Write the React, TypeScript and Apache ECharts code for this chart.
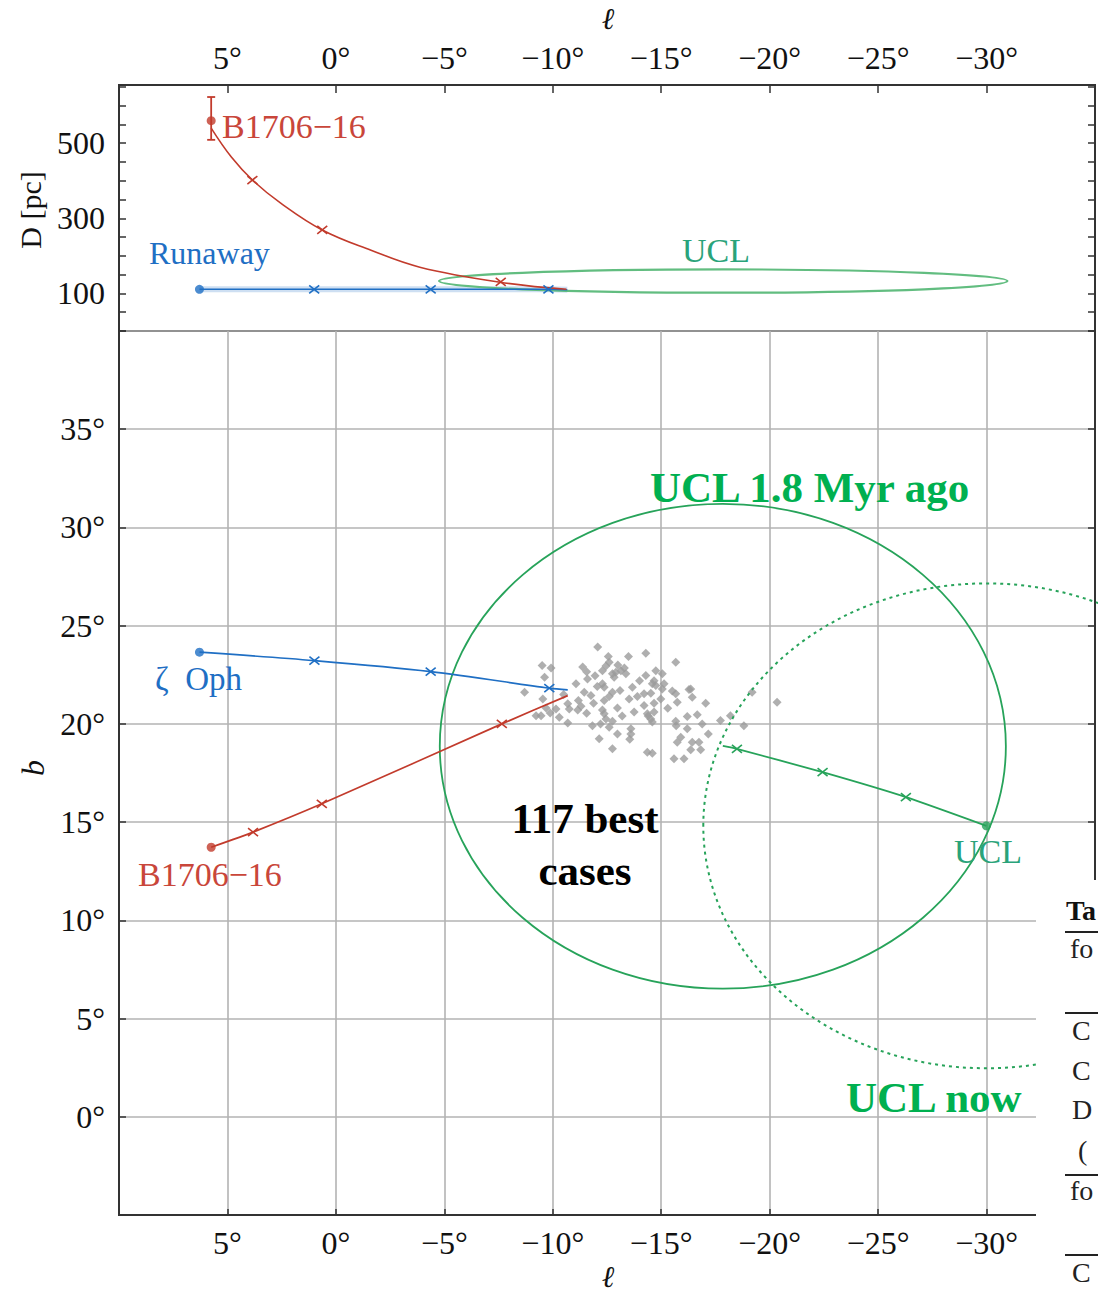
import React, { useEffect, useRef } from 'react';
import * as echarts from 'echarts';

// ---- tick labels ----
const lTickLabels = [5, 0, -5, -10, -15, -20, -25, -30];
const bTickLabels = [0, 5, 10, 15, 20, 25, 30, 35];
const dTickLabels = [100, 300, 500];

// ---- top panel (l, D) ----
const pulsarCurveL = [5.75, 4.82, 3.85, 2.56, 0.63, -1.62, -3.87, -7.55, -10.63];
const pulsarCurveD = [540, 463, 402, 341, 269, 215, 170, 130, 111];
const pulsarCrossL_D = [3.85, 0.63, -7.6];
const pulsarCrossD = [402, 269, 131];
const pulsarNowL_D = 5.75;
const pulsarNowD = 560;
const pulsarDErrLow = 509;
const pulsarDErrHigh = 623;

const runawayL_D = [6.29, 1.0, -4.37, -9.8, -10.67];
const runawayD = [111, 111, 111, 111, 110];
const runawayCrossL_D = [1.0, -4.37, -9.8];
const runawayCrossD = [111, 111, 111];

const uclTopCenter = [-17.86, 133];
const uclTopSemi = [13.1, 31];

// ---- main panel (l, b) ----
const zetaL = [6.29, 0.99, -4.37, -9.84, -10.69];
const zetaB = [23.65, 23.22, 22.66, 21.82, 21.73];
const zetaCrossL = [0.99, -4.37, -9.84];
const zetaCrossB = [23.22, 22.66, 21.82];

const psrL = [5.75, 3.82, 0.65, -7.65, -10.69];
const psrB = [13.72, 14.49, 15.93, 20.0, 21.44];
const psrCrossL = [3.82, 0.65, -7.65];
const psrCrossB = [14.49, 15.93, 20.0];

const uclL = [-29.99, -26.28, -22.44, -18.49, -17.84];
const uclB = [14.81, 16.27, 17.54, 18.73, 18.88];
const uclCrossL = [-26.28, -22.44, -18.49];
const uclCrossB = [16.27, 17.54, 18.73];

const uclPastCenter = [-17.84, 18.86];
const uclNowCenter = [-29.99, 14.81];
const uclSemi = [13.05, 12.34];

const caseL = [
  -12.07, -12.56, -13.49, -14.29, -9.51, -9.92, -11.38, -11.56, -12.29, -12.6,
  -12.75, -12.91, -13.14, -13.37, -12.83, -14.29, -9.62, -11.6, -11.07, -12.29,
  -12.37, -13.67, -8.7, -11.45, -11.76, -12.75, -14.21, -9.54, -11.18, -11.88,
  -12.37, -13.52, -13.9, -10.69, -10.76, -11.15, -12.98, -12.29, -14.21, -9.69,
  -10.15, -9.23, -9.46, -9.88, -10.3, -11.56, -12.37, -12.45, -12.75, -13.75,
  -14.36, -10.69, -11.83, -12.6, -13.6, -12.98, -12.14, -13.6, -13.55, -12.75,
  -14.36, -15.67, -14.75, -15.05, -14.67, -14.59, -14.75, -15.13, -14.52, -15.05,
  -15.51, -15.67, -16.36, -16.43, -14.67, -14.98, -15.74, -17.05, -14.67, -14.4,
  -14.52, -16.2, -16.66, -14.59, -15.67, -15.69, -16.89, -17.73, -18.19, -18.81,
  -16.2, -17.17, -15.9, -15.74, -16.43, -16.74, -16.36, -16.82, -14.59, -15.59,
  -16.05, -19.19, -20.34, -13.0, -12.45, -13.3, -11.95, -12.05, -13.1, -11.3,
  -12.6, -13.2, -14.0, -15.3, -10.5, -16.28, -12.2,
];
const caseB = [
  23.91, 23.43, 23.43, 23.6, 22.97, 22.84, 22.89, 22.66, 22.71, 23.14,
  22.55, 22.63, 22.71, 22.55, 22.38, 22.46, 22.38, 22.29, 22.04, 22.04,
  21.87, 21.87, 21.61, 21.61, 21.44, 21.61, 21.53, 21.27, 21.19, 21.05,
  21.19, 21.27, 21.39, 21.02, 20.76, 20.71, 20.81, 20.71, 20.93, 20.81,
  20.76, 20.42, 20.42, 20.56, 20.34, 20.54, 20.51, 20.25, 20.14, 20.6,
  20.51, 20.04, 19.91, 19.83, 19.75, 19.49, 19.24, 19.49, 19.22, 18.73,
  18.56, 23.14, 22.71, 22.55, 22.2, 22.04, 21.95, 22.04, 21.56, 21.78,
  21.67, 21.53, 21.78, 21.36, 21.05, 21.27, 21.1, 21.05, 20.6, 20.4,
  20.25, 20.37, 20.47, 20.09, 20.14, 19.91, 20.0, 20.17, 20.42, 19.91,
  19.75, 19.49, 19.32, 19.07, 19.07, 19.07, 18.68, 18.68, 18.51, 18.22,
  18.22, 21.61, 21.1, 23.0, 22.95, 22.85, 22.45, 21.9, 21.7, 20.9,
  21.4, 20.4, 22.2, 20.8, 21.5, 21.75, 20.0,
];

const RED = '#c23b2c';
const BLUE = '#1f6fc4';
const GREEN = '#27a35a';
const SERIF = '"Liberation Serif", "DejaVu Serif", serif';

const zip = (a: number[], b: number[]) => a.map((v, i) => [v, b[i]]);

function crossSeries(xi: number, yi: number, data: number[][], color: string) {
  return {
    type: 'custom',
    xAxisIndex: xi,
    yAxisIndex: yi,
    z: 6,
    data,
    renderItem: (_p: any, api: any) => {
      const p = api.coord([api.value(0), api.value(1)]);
      const sx = 5, sy = 4;
      return {
        type: 'group',
        children: [
          { type: 'line', shape: { x1: p[0] - sx, y1: p[1] - sy, x2: p[0] + sx, y2: p[1] + sy }, style: { stroke: color, lineWidth: 1.6 } },
          { type: 'line', shape: { x1: p[0] - sx, y1: p[1] + sy, x2: p[0] + sx, y2: p[1] - sy }, style: { stroke: color, lineWidth: 1.6 } },
        ],
      };
    },
  };
}

function ellipseSeries(xi: number, yi: number, center: number[], semi: number[], color: string, width: number, dash?: number[]) {
  return {
    type: 'custom',
    xAxisIndex: xi,
    yAxisIndex: yi,
    z: 4,
    clip: false,
    data: [[center[0], center[1], semi[0], semi[1]]],
    renderItem: (_p: any, api: any) => {
      const c = api.coord([api.value(0), api.value(1)]);
      const s = api.size([api.value(2), api.value(3)]);
      return {
        type: 'ellipse',
        shape: { cx: c[0], cy: c[1], rx: s[0], ry: s[1] },
        style: { fill: 'none', stroke: color, lineWidth: width, lineDash: dash || null },
      };
    },
  };
}

function lineSeries(xi: number, yi: number, data: number[][], color: string, width: number, smooth: number | boolean) {
  return {
    type: 'line',
    xAxisIndex: xi,
    yAxisIndex: yi,
    data,
    smooth,
    showSymbol: false,
    z: 5,
    lineStyle: { color, width },
  };
}

function dotSeries(xi: number, yi: number, data: number[][], color: string) {
  return {
    type: 'scatter',
    xAxisIndex: xi,
    yAxisIndex: yi,
    data,
    symbol: 'circle',
    symbolSize: 9,
    z: 7,
    itemStyle: { color },
  };
}

const lFmt = (v: number) => {
  if (!lTickLabels.includes(v)) return '';
  return (v < 0 ? '\u2212' + -v : String(v)) + '°';
};

const axisText = { fontFamily: SERIF, fontSize: 32, color: '#111' };
const frameLine = { show: true, onZero: false, lineStyle: { color: '#333', width: 2 } };

function txt(x: number, y: number, text: string, color: string, font: string, align = 'left', rotation = 0, z = 50) {
  return {
    type: 'text',
    x,
    y,
    rotation,
    z,
    style: { text, fill: color, font, textAlign: align, textVerticalAlign: 'middle' },
  };
}

const option: any = {
  animation: false,
  backgroundColor: '#ffffff',
  grid: [
    { left: 119, top: 85, width: 978, height: 246, show: true, borderColor: '#333', borderWidth: 2 },
    { left: 119, top: 331, width: 978, height: 884, show: true, borderColor: '#333', borderWidth: 2 },
  ],
  xAxis: [
    {
      type: 'value', gridIndex: 0, position: 'top', min: -35, max: 10, interval: 5, inverse: true,
      axisLine: frameLine,
      axisTick: { show: true, inside: true, length: 8, lineStyle: { color: '#333', width: 1.5 } },
      axisLabel: { ...axisText, margin: 11, formatter: lFmt, showMinLabel: true, showMaxLabel: true },
      splitLine: { show: false },
    },
    {
      type: 'value', gridIndex: 1, position: 'bottom', min: -35, max: 10, interval: 5, inverse: true,
      axisLine: frameLine,
      axisTick: { show: true, inside: true, length: 6, lineStyle: { color: '#333', width: 1.5 } },
      axisLabel: { ...axisText, margin: 12, formatter: lFmt, showMinLabel: true, showMaxLabel: true },
      splitLine: { show: true, lineStyle: { color: '#b3b3b3', width: 1.6 } },
    },
  ],
  yAxis: [
    {
      type: 'value', gridIndex: 0, position: 'left', min: 0, max: 655, interval: 50,
      axisLine: frameLine,
      axisTick: { show: true, inside: true, length: 7, lineStyle: { color: '#333', width: 1.5 } },
      axisLabel: { ...axisText, margin: 14, formatter: (v: number) => (dTickLabels.includes(v) ? String(v) : '') },
      splitLine: { show: false },
    },
    {
      type: 'value', gridIndex: 1, position: 'left', min: -5, max: 40, interval: 5,
      axisLine: frameLine,
      axisTick: { show: true, inside: true, length: 7, lineStyle: { color: '#333', width: 1.5 } },
      axisLabel: { ...axisText, margin: 14, formatter: (v: number) => (bTickLabels.includes(v) ? v + '°' : '') },
      splitLine: { show: true, lineStyle: { color: '#b3b3b3', width: 1.6 } },
    },
    {
      type: 'value', gridIndex: 0, position: 'right', min: 0, max: 655, interval: 50,
      axisLine: frameLine,
      axisTick: { show: true, inside: true, length: 7, lineStyle: { color: '#333', width: 1.5 } },
      axisLabel: { show: false },
      splitLine: { show: false },
    },
    {
      type: 'value', gridIndex: 1, position: 'right', min: -5, max: 40, interval: 5,
      axisLine: frameLine,
      axisTick: { show: true, inside: true, length: 7, lineStyle: { color: '#333', width: 1.5 } },
      axisLabel: { show: false },
      splitLine: { show: false },
    },
  ],
  series: [
    // ---- top panel ----
    ellipseSeries(0, 0, uclTopCenter, uclTopSemi, '#62bd80', 2.2),
    {
      type: 'line', xAxisIndex: 0, yAxisIndex: 0, data: zip(runawayL_D, runawayD), showSymbol: false, z: 3,
      lineStyle: { color: 'rgba(31,111,196,0.22)', width: 6 },
    },
    lineSeries(0, 0, zip(runawayL_D, runawayD), BLUE, 1.6, false),
    crossSeries(0, 0, zip(runawayCrossL_D, runawayCrossD), BLUE),
    dotSeries(0, 0, [[runawayL_D[0], runawayD[0]]], BLUE),
    lineSeries(0, 0, zip(pulsarCurveL, pulsarCurveD), RED, 1.6, 0.4),
    crossSeries(0, 0, zip(pulsarCrossL_D, pulsarCrossD), RED),
    dotSeries(0, 0, [[pulsarNowL_D, pulsarNowD]], RED),
    {
      type: 'custom', xAxisIndex: 0, yAxisIndex: 0, z: 6,
      data: [[pulsarNowL_D, pulsarDErrLow, pulsarDErrHigh]],
      renderItem: (_p: any, api: any) => {
        const lo = api.coord([api.value(0), api.value(1)]);
        const hi = api.coord([api.value(0), api.value(2)]);
        const c = 4;
        const st = { stroke: RED, lineWidth: 1.8 };
        return {
          type: 'group',
          children: [
            { type: 'line', shape: { x1: lo[0], y1: lo[1], x2: hi[0], y2: hi[1] }, style: st },
            { type: 'line', shape: { x1: lo[0] - c, y1: lo[1], x2: lo[0] + c, y2: lo[1] }, style: st },
            { type: 'line', shape: { x1: hi[0] - c, y1: hi[1], x2: hi[0] + c, y2: hi[1] }, style: st },
          ],
        };
      },
    },
    // ---- main panel ----
    {
      type: 'scatter', xAxisIndex: 1, yAxisIndex: 1, data: zip(caseL, caseB), symbol: 'diamond', symbolSize: 9, z: 3,
      itemStyle: { color: '#9b9b9b' },
    },
    ellipseSeries(1, 1, uclPastCenter, uclSemi, GREEN, 1.8),
    ellipseSeries(1, 1, uclNowCenter, uclSemi, GREEN, 2, [3, 4]),
    lineSeries(1, 1, zip(zetaL, zetaB), BLUE, 1.7, 0.3),
    crossSeries(1, 1, zip(zetaCrossL, zetaCrossB), BLUE),
    dotSeries(1, 1, [[zetaL[0], zetaB[0]]], BLUE),
    lineSeries(1, 1, zip(psrL, psrB), RED, 1.7, 0.2),
    crossSeries(1, 1, zip(psrCrossL, psrCrossB), RED),
    dotSeries(1, 1, [[psrL[0], psrB[0]]], RED),
    lineSeries(1, 1, zip(uclL, uclB), GREEN, 1.8, 0.2),
    crossSeries(1, 1, zip(uclCrossL, uclCrossB), GREEN),
    dotSeries(1, 1, [[uclL[0], uclB[0]]], GREEN),
  ],
  graphic: [
    txt(608, 18, 'ℓ', '#111', `italic 30px ${SERIF}`, 'center'),
    txt(608, 1276, 'ℓ', '#111', `italic 30px ${SERIF}`, 'center'),
    txt(30, 210, 'D [pc]', '#111', `30px ${SERIF}`, 'center', Math.PI / 2),
    txt(33, 768, 'b', '#111', `italic 32px ${SERIF}`, 'center', Math.PI / 2),
    txt(222, 126, 'B1706\u221216', '#c9463a', `34px ${SERIF}`),
    txt(149, 253, 'Runaway', BLUE, `32px ${SERIF}`),
    txt(716, 250, 'UCL', '#2aa37a', `34px ${SERIF}`, 'center'),
    txt(155, 679, 'ζ\u2002Oph', BLUE, `33px ${SERIF}`),
    txt(138, 874, 'B1706\u221216', '#c9463a', `34px ${SERIF}`),
    txt(988, 851, 'UCL', '#2aa37a', `34px ${SERIF}`, 'center'),
    txt(650, 487, 'UCL 1.8 Myr ago', '#00b050', `bold 43px ${SERIF}`),
    txt(846, 1097, 'UCL now', '#00b050', `bold 43px ${SERIF}`),
    txt(585, 818, '117 best', '#000000', `bold 43px ${SERIF}`, 'center'),
    txt(585, 870, 'cases', '#000000', `bold 43px ${SERIF}`, 'center'),
    // overlapping table fragment on the right
    { type: 'rect', z: 100, shape: { x: 1036, y: 880, width: 62, height: 416 }, style: { fill: '#ffffff' } },
    { type: 'line', z: 101, shape: { x1: 1065, y1: 932, x2: 1098, y2: 932 }, style: { stroke: '#222', lineWidth: 2 } },
    { type: 'line', z: 101, shape: { x1: 1065, y1: 1013, x2: 1098, y2: 1013 }, style: { stroke: '#222', lineWidth: 2 } },
    { type: 'line', z: 101, shape: { x1: 1065, y1: 1175, x2: 1098, y2: 1175 }, style: { stroke: '#222', lineWidth: 2 } },
    { type: 'line', z: 101, shape: { x1: 1065, y1: 1255, x2: 1098, y2: 1255 }, style: { stroke: '#222', lineWidth: 2 } },
    txt(1066, 910, 'Ta', '#111', `bold 28px ${SERIF}`, 'left', 0, 101),
    txt(1070, 948, 'fo', '#222', `28px ${SERIF}`, 'left', 0, 101),
    txt(1072, 1030, 'C', '#222', `28px ${SERIF}`, 'left', 0, 101),
    txt(1072, 1070, 'C', '#222', `28px ${SERIF}`, 'left', 0, 101),
    txt(1072, 1109, 'D', '#222', `28px ${SERIF}`, 'left', 0, 101),
    txt(1078, 1150, '(', '#222', `28px ${SERIF}`, 'left', 0, 101),
    txt(1070, 1190, 'fo', '#222', `28px ${SERIF}`, 'left', 0, 101),
    txt(1072, 1272, 'C', '#222', `28px ${SERIF}`, 'left', 0, 101),
  ],
};

export default function App() {
  const ref = useRef<HTMLDivElement>(null);
  useEffect(() => {
    const chart = echarts.init(ref.current as HTMLDivElement, null, { renderer: 'svg' });
    chart.setOption(option);
    return () => chart.dispose();
  }, []);
  return (
    <div
      ref={ref}
      style={{ position: 'absolute', left: 0, top: 0, width: 1098, height: 1296, background: '#fff' }}
    />
  );
}
